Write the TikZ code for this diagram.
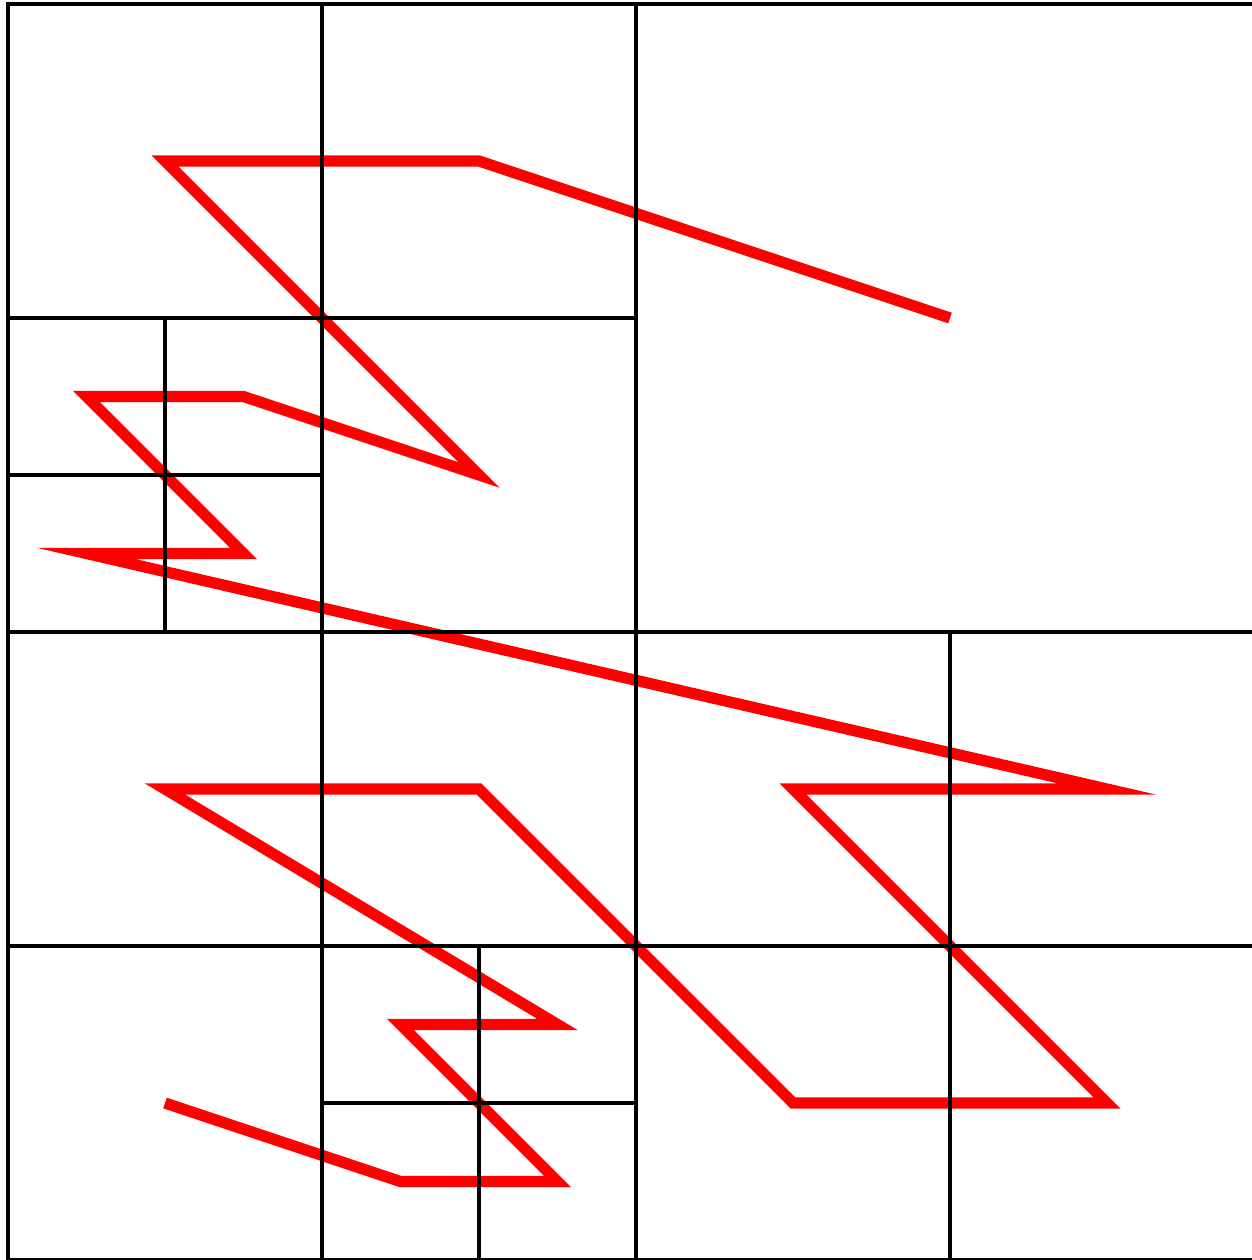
\documentclass[tikz,border=0pt]{standalone}
\begin{document}
\begin{tikzpicture}[x=0.5pt,y=-0.5pt,
  grid/.style={draw=black,line width=1.6pt},
  curve/.style={draw=red,line width=5.6pt}]
\useasboundingbox (0,0) rectangle (1252,1260);
% Z-order curve through leaf-cell centres
\begin{scope}[shift={(8,4)},x=157pt,y=-157pt]
\coordinate (p1) at (3,1);
\coordinate (p2) at (1.5,0.5);
\coordinate (p3) at (0.5,0.5);
\coordinate (p4) at (1.5,1.5);
\coordinate (p5) at (0.75,1.25);
\coordinate (p6) at (0.25,1.25);
\coordinate (p7) at (0.75,1.75);
\coordinate (p8) at (0.25,1.75);
\coordinate (p9) at (3.5,2.5);
\coordinate (p10) at (2.5,2.5);
\coordinate (p11) at (3.5,3.5);
\coordinate (p12) at (2.5,3.5);
\coordinate (p13) at (1.5,2.5);
\coordinate (p14) at (0.5,2.5);
\coordinate (p15) at (1.75,3.25);
\coordinate (p16) at (1.25,3.25);
\coordinate (p17) at (1.75,3.75);
\coordinate (p18) at (1.25,3.75);
\coordinate (p19) at (0.5,3.5);
\draw[curve] (p1) -- (p2) -- (p3) -- (p4) -- (p5) -- (p6) -- (p7) -- (p8) -- (p9) -- (p10) -- (p11) -- (p12) -- (p13) -- (p14) -- (p15) -- (p16) -- (p17) -- (p18) -- (p19);
% quadtree grid
\draw[grid] (0,0) rectangle (4,4);
\draw[grid] (2,0) -- (2,4);
\draw[grid] (0,2) -- (4,2);
\draw[grid] (1,0) -- (1,2);
\draw[grid] (0,1) -- (2,1);
\draw[grid] (0.5,1) -- (0.5,2);
\draw[grid] (0,1.5) -- (1,1.5);
\draw[grid] (1,2) -- (1,4);
\draw[grid] (0,3) -- (4,3);
\draw[grid] (3,2) -- (3,4);
\draw[grid] (1.5,3) -- (1.5,4);
\draw[grid] (1,3.5) -- (2,3.5);
\end{scope}
\end{tikzpicture}
\end{document}
